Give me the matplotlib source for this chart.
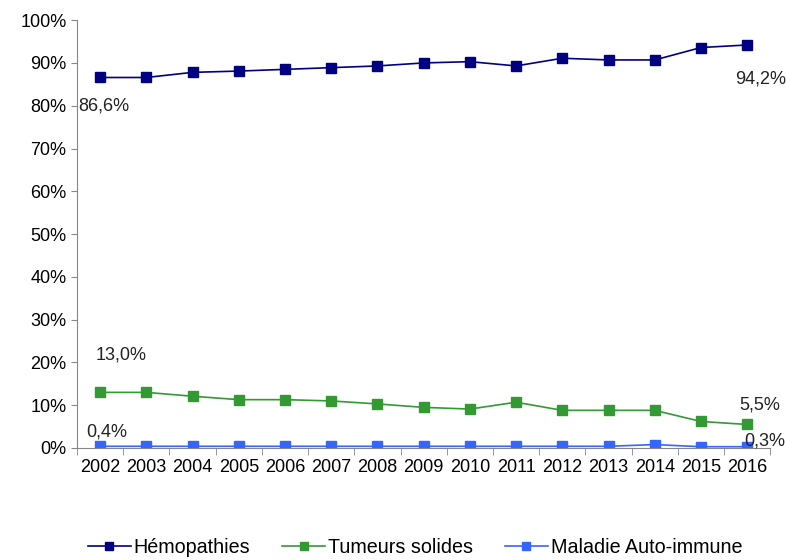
import matplotlib
matplotlib.use("Agg")
import matplotlib.pyplot as plt
from matplotlib.ticker import FixedLocator, PercentFormatter

plt.rcParams['font.family'] = ['Liberation Sans', 'DejaVu Sans']

years = [str(y) for y in range(2002, 2017)]
hemopathies = [86.6, 86.6, 87.8, 88.1, 88.5, 88.9, 89.3, 90.0, 90.3, 89.3, 91.1, 90.7, 90.7, 93.6, 94.2]
tumeurs = [13.0, 13.0, 12.1, 11.3, 11.3, 11.0, 10.3, 9.5, 9.1, 10.7, 8.8, 8.8, 8.8, 6.2, 5.5]
auto_immune = [0.4, 0.4, 0.4, 0.4, 0.4, 0.4, 0.4, 0.4, 0.4, 0.4, 0.4, 0.4, 0.8, 0.3, 0.3]

series = [
    ("Hémopathies", hemopathies, "#000080"),
    ("Tumeurs solides", tumeurs, "#339933"),
    ("Maladie Auto-immune", auto_immune, "#3366ff"),
]

fig = plt.figure(figsize=(7.86, 5.6), dpi=100)
ax = fig.add_axes([0.098, 0.2, 0.882, 0.764])

x = list(range(len(years)))
for name, vals, col in series:
    ax.plot(x, vals, color=col, lw=1.2, marker='s', markersize=7, label=name)

ax.set_xlim(-0.5, len(years) - 0.5)
ax.set_ylim(0, 100)
ax.set_xticks(x)
ax.set_xticklabels(years, fontsize=13)
ax.xaxis.set_minor_locator(FixedLocator([i - 0.5 for i in range(len(years) + 1)]))
ax.tick_params(axis='x', which='major', length=0, pad=8)
ax.tick_params(axis='x', which='minor', length=5, color='#868686')
ax.set_yticks(range(0, 101, 10))
ax.yaxis.set_major_formatter(PercentFormatter(decimals=0))
ax.tick_params(axis='y', labelsize=13, length=4, color='#868686')

for s in ['top', 'right']:
    ax.spines[s].set_visible(False)
for s in ['left', 'bottom']:
    ax.spines[s].set_color('#868686')

def lab(v):
    return f"{v:.1f}%".replace('.', ',')

txt = dict(fontsize=13, color='#222222')
ax.annotate(lab(hemopathies[0]), (x[0], hemopathies[0]), xytext=(-16, -24), textcoords='offset points', **txt)
ax.annotate(lab(hemopathies[-1]), (x[-1], hemopathies[-1]), xytext=(-9, -28), textcoords='offset points', **txt)
ax.annotate(lab(tumeurs[0]), (x[0], tumeurs[0]), xytext=(-3, 24), textcoords='offset points', **txt)
ax.annotate(lab(tumeurs[-1]), (x[-1], tumeurs[-1]), xytext=(-6, 11), textcoords='offset points', **txt)
ax.annotate(lab(auto_immune[0]), (x[0], auto_immune[0]), xytext=(-10, 7), textcoords='offset points', **txt)
ax.annotate(lab(auto_immune[-1]), (x[-1], auto_immune[-1]), xytext=(-2, 1), textcoords='offset points', **txt)

fig.legend(loc='lower center', bbox_to_anchor=(0.528, -0.027), ncol=3, frameon=False,
           fontsize=14.25, handlelength=2.17, columnspacing=1.6, handletextpad=0.15,
           markerscale=0.8)

fig.savefig("out.png", dpi=100)
